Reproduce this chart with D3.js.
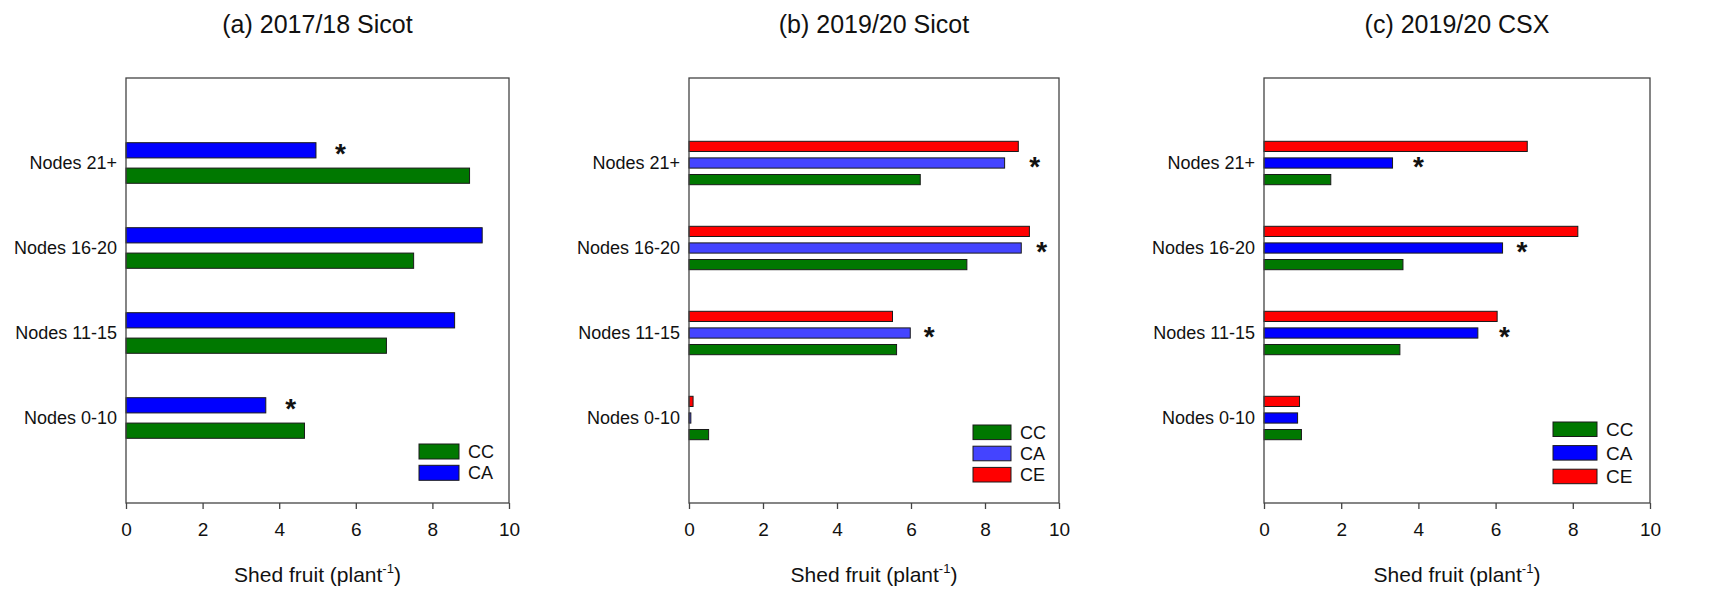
<!DOCTYPE html>
<html>
<head>
<meta charset="utf-8">
<script src="https://cdn.jsdelivr.net/npm/d3@7"></script>
<style>
  body { margin: 0; background: #fff; }
  svg { display: block; font-family: "Liberation Sans", Arial, sans-serif; }
  .frame { fill: none; stroke: #444; stroke-width: 1.3; }
  .bar { stroke: #1a1a1a; stroke-width: 1; }
  .axis path { display: none; }
  .axis line { stroke: #444; stroke-width: 1.3; }
  .axis text { font-size: 19px; fill: #111; }
</style>
</head>
<body>
<svg id="chart" width="1716" height="592"></svg>
<script>
// data
const categories = ["Nodes 0-10", "Nodes 11-15", "Nodes 16-20", "Nodes 21+"];
const xTicks = [0, 2, 4, 6, 8, 10];

// (a) 2017/18 Sicot
const aCC = [4.66, 6.80, 7.51, 8.97];
const aCA = [3.65, 8.58, 9.30, 4.96];
const aStar = [4.3, null, null, 5.6];

// (b) 2019/20 Sicot
const bCC = [0.53, 5.61, 7.51, 6.25];
const bCA = [0.05, 5.98, 8.98, 8.53];
const bCE = [0.11, 5.50, 9.20, 8.90];
const bStar = [null, 6.49, 9.53, 9.34];

// (c) 2019/20 CSX
const cCC = [0.97, 3.52, 3.60, 1.73];
const cCA = [0.87, 5.54, 6.18, 3.33];
const cCE = [0.92, 6.04, 8.13, 6.82];
const cStar = [null, 6.23, 6.68, 4.0];

const green = "#007800", red = "#ff0000";

const panels = [
  {
    title: "(a) 2017/18 Sicot", left: 126, right: 509,
    series: [{ key: "CC", values: aCC, color: green }, { key: "CA", values: aCA, color: "#0000ff" }],
    stars: aStar, groupH: 40.6, pad: 0.4,
    legend: { x: 419, y: 444, w: 40, h: 15, step: 21.3, size: 18 },
  },
  {
    title: "(b) 2019/20 Sicot", left: 689, right: 1059,
    series: [{ key: "CC", values: bCC, color: green }, { key: "CA", values: bCA, color: "#4444ff" },
             { key: "CE", values: bCE, color: red }],
    stars: bStar, groupH: 43.4, pad: 0.385,
    legend: { x: 973, y: 425, w: 38, h: 14.6, step: 21.2, size: 18 },
  },
  {
    title: "(c) 2019/20 CSX", left: 1264, right: 1650,
    series: [{ key: "CC", values: cCC, color: green }, { key: "CA", values: cCA, color: "#0000ff" },
             { key: "CE", values: cCE, color: red }],
    stars: cStar, groupH: 43.4, pad: 0.385,
    legend: { x: 1553, y: 422, w: 44, h: 14.5, step: 23.6, size: 19 },
  },
];

const plotTop = 78, plotBottom = 503;
const svg = d3.select("#chart");

panels.forEach((p) => {
  const g = svg.append("g");

  const x = d3.scaleLinear().domain([0, 10]).range([p.left, p.right]);
  // categories sit at 1..4 on a 0..5 axis
  const y = d3.scaleLinear().domain([0, 5]).range([plotBottom, plotTop]);

  // bars inside a group, drawn top to bottom in reverse legend order
  const inner = d3.scaleBand()
    .domain(p.series.map((s) => s.key).reverse())
    .range([-p.groupH / 2, p.groupH / 2])
    .paddingInner(p.pad);

  // title
  g.append("text")
    .attr("x", (p.left + p.right) / 2)
    .attr("y", 33)
    .attr("text-anchor", "middle")
    .style("font-size", "25px")
    .style("fill", "#111")
    .text(p.title);

  // bars
  p.series.forEach((s) => {
    g.selectAll(null)
      .data(s.values)
      .join("rect")
      .attr("class", "bar")
      .attr("fill", s.color)
      .attr("x", x(0))
      .attr("width", (d) => x(d) - x(0))
      .attr("y", (d, i) => y(i + 1) + inner(s.key))
      .attr("height", inner.bandwidth());
  });

  // significance marks
  g.selectAll(null)
    .data(p.stars.map((v, i) => ({ v, i })).filter((d) => d.v !== null))
    .join("text")
    .attr("x", (d) => x(d.v))
    .attr("y", (d) => y(d.i + 1) + inner("CA") + inner.bandwidth() / 2 + 13)
    .attr("text-anchor", "middle")
    .style("font-size", "28px")
    .style("font-weight", "bold")
    .style("fill", "#111")
    .text("*");

  // frame
  g.append("rect")
    .attr("class", "frame")
    .attr("x", p.left)
    .attr("y", plotTop)
    .attr("width", p.right - p.left)
    .attr("height", plotBottom - plotTop);

  // x axis
  g.append("g")
    .attr("class", "axis")
    .attr("transform", `translate(0, ${plotBottom})`)
    .call(d3.axisBottom(x).tickValues(xTicks).tickFormat(d3.format("d"))
      .tickSize(6).tickSizeOuter(0).tickPadding(14));

  // category labels
  g.selectAll(null)
    .data(categories)
    .join("text")
    .attr("x", p.left - 9)
    .attr("y", (d, i) => y(i + 1))
    .attr("dy", "0.35em")
    .attr("text-anchor", "end")
    .style("font-size", "18px")
    .style("fill", "#111")
    .text((d) => d);

  // x axis title
  const xt = g.append("text")
    .attr("x", (p.left + p.right) / 2)
    .attr("y", 582)
    .attr("text-anchor", "middle")
    .style("font-size", "21px")
    .style("fill", "#111");
  xt.append("tspan").text("Shed fruit (plant");
  xt.append("tspan").attr("dy", -9).style("font-size", "13px").text("-1");
  xt.append("tspan").attr("dy", 9).text(")");

  // legend
  const L = p.legend;
  const lg = g.selectAll(null)
    .data(p.series)
    .join("g")
    .attr("transform", (d, i) => `translate(${L.x}, ${L.y + i * L.step})`);
  lg.append("rect")
    .attr("class", "bar")
    .attr("width", L.w)
    .attr("height", L.h)
    .attr("fill", (d) => d.color);
  lg.append("text")
    .attr("x", L.w + 9)
    .attr("y", L.h / 2)
    .attr("dy", "0.36em")
    .style("font-size", `${L.size}px`)
    .style("fill", "#111")
    .text((d) => d.key);
});
</script>
</body>
</html>
